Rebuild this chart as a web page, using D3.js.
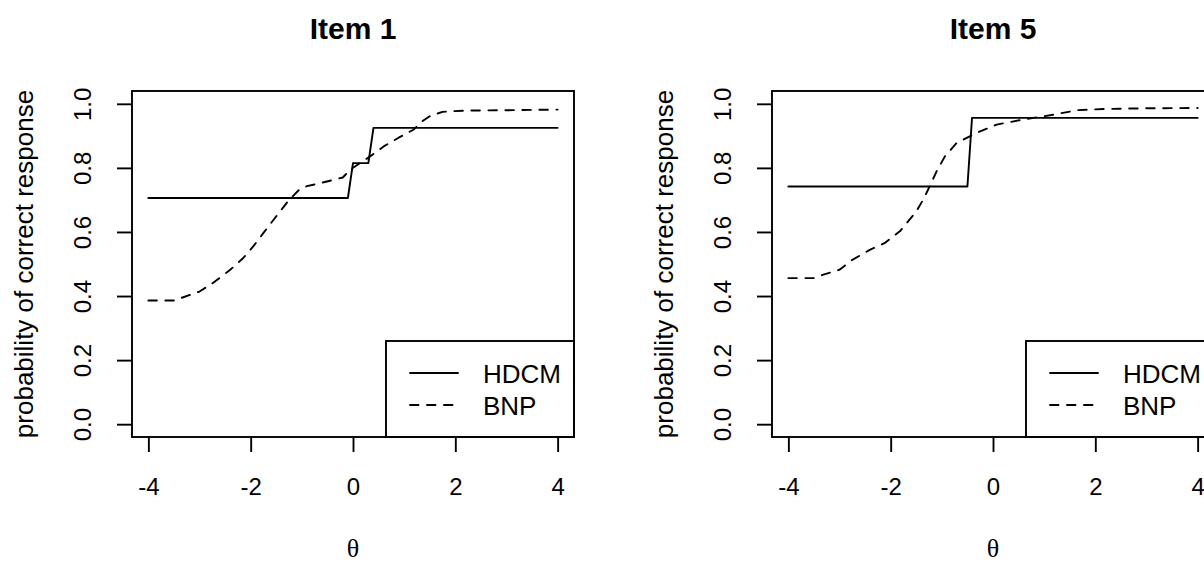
<!DOCTYPE html>
<html>
<head>
<meta charset="utf-8">
<script src="https://cdn.jsdelivr.net/npm/d3@7"></script>
<style>
  html, body { margin: 0; padding: 0; background: #fff; }
  svg { display: block; }
  text { font-family: "Liberation Sans", Arial, Helvetica, sans-serif; fill: #000; }
</style>
</head>
<body>
<svg id="chart" width="1204" height="563"></svg>
<script>
// ---------- data ----------
const xTicks = [-4, -2, 0, 2, 4];
const yTicks = [0, 0.2, 0.4, 0.6, 0.8, 1.0];
const seriesNames = ["HDCM", "BNP"];
const panelTitles = ["Item 1", "Item 5"];

// Item 1
const item1HdcmTheta = [-4, -0.10, 0.00, 0.30, 0.40, 4];
const item1HdcmProb  = [0.706, 0.706, 0.815, 0.815, 0.925, 0.925];
const item1BnpTheta = [-4, -3.5, -3.0, -2.7, -2.4, -2.15, -1.95, -1.75, -1.5, -1.25, -1.05, -0.9, -0.7, -0.45, -0.2, -0.05, 0.3, 0.6, 0.9, 1.18, 1.35, 1.5, 1.75, 2.2, 3.0, 4.0];
const item1BnpProb  = [0.386, 0.386, 0.414, 0.445, 0.482, 0.518, 0.555, 0.597, 0.649, 0.700, 0.732, 0.743, 0.750, 0.760, 0.770, 0.795, 0.832, 0.867, 0.895, 0.919, 0.945, 0.961, 0.975, 0.979, 0.980, 0.982];

// Item 5
const item5HdcmTheta = [-4, -0.50, -0.41, 4];
const item5HdcmProb  = [0.742, 0.742, 0.956, 0.956];
const item5BnpTheta = [-4, -3.5, -3.33, -3.0, -2.75, -2.41, -2.12, -1.82, -1.5, -1.35, -1.24, -1.1, -0.94, -0.71, -0.32, 0.07, 0.59, 1.18, 1.64, 2.2, 3.0, 4.0];
const item5BnpProb  = [0.456, 0.456, 0.466, 0.482, 0.513, 0.544, 0.565, 0.602, 0.664, 0.705, 0.742, 0.790, 0.836, 0.878, 0.909, 0.935, 0.951, 0.966, 0.980, 0.984, 0.986, 0.987];

const panels = [
  { title: panelTitles[0], hdcm: d3.zip(item1HdcmTheta, item1HdcmProb), bnp: d3.zip(item1BnpTheta, item1BnpProb) },
  { title: panelTitles[1], hdcm: d3.zip(item5HdcmTheta, item5HdcmProb), bnp: d3.zip(item5BnpTheta, item5BnpProb) }
];

// ---------- layout ----------
const svg = d3.select("#chart");
const panelOffset = 640;
const plotL = 132, plotR = 574, plotT = 91, plotB = 437;
const x = d3.scaleLinear().domain([-4.32, 4.32]).range([plotL, plotR]);
const y = d3.scaleLinear().domain([-0.04, 1.04]).range([plotB, plotT]);
const line = d3.line().x(d => x(d[0])).y(d => y(d[1]));
const lw = 1.9;
const dash = "8.5,8.5";

panels.forEach((p, i) => {
  const g = svg.append("g").attr("transform", `translate(${i * panelOffset},0)`);

  // title
  g.append("text").attr("x", x(0)).attr("y", 39)
    .attr("text-anchor", "middle").attr("font-weight", "bold").attr("font-size", 30)
    .text(p.title);

  // x axis
  const xa = g.append("g").attr("transform", `translate(0,${plotB})`)
    .call(d3.axisBottom(x).tickValues(xTicks).tickSize(15).tickSizeOuter(0).tickPadding(0)
      .tickFormat(d => d < 0 ? "-" + Math.abs(d) : String(d)));
  xa.select(".domain").remove();
  xa.selectAll(".tick line").attr("stroke", "#000").attr("stroke-width", lw);
  xa.selectAll(".tick text").attr("font-size", 24).attr("dy", null).attr("y", 58)
    .style("font-family", "'Liberation Sans', Arial, sans-serif");

  // y axis
  const ya = g.append("g").attr("transform", `translate(${plotL},0)`)
    .call(d3.axisLeft(y).tickValues(yTicks).tickSize(15).tickSizeOuter(0)
      .tickFormat(d3.format(".1f")));
  ya.select(".domain").remove();
  ya.selectAll(".tick line").attr("stroke", "#000").attr("stroke-width", lw);
  ya.selectAll(".tick text")
    .attr("font-size", 24).attr("x", null).attr("dy", null).attr("y", null)
    .attr("text-anchor", "middle")
    .attr("transform", "translate(-41,0) rotate(-90)")
    .style("font-family", "'Liberation Sans', Arial, sans-serif");

  // axis labels
  g.append("text").attr("transform", `translate(33,${(plotT + plotB) / 2}) rotate(-90)`)
    .attr("text-anchor", "middle").attr("font-size", 26)
    .text("probability of correct response");
  g.append("text").attr("x", x(0)).attr("y", 557)
    .attr("text-anchor", "middle").attr("font-size", 26)
    .style("font-family", "'Liberation Serif', 'DejaVu Serif', serif")
    .text("θ");

  // curves
  g.append("path").datum(p.hdcm).attr("d", line)
    .attr("fill", "none").attr("stroke", "#000").attr("stroke-width", lw)
    .attr("stroke-linejoin", "round").attr("stroke-linecap", "round");
  g.append("path").datum(p.bnp).attr("d", line)
    .attr("fill", "none").attr("stroke", "#000").attr("stroke-width", lw)
    .attr("stroke-dasharray", dash)
    .attr("stroke-linejoin", "round").attr("stroke-linecap", "round");

  // legend
  const lg = g.append("g");
  lg.append("rect").attr("x", 386).attr("y", 341).attr("width", plotR - 386).attr("height", plotB - 341)
    .attr("fill", "#fff").attr("stroke", "#000").attr("stroke-width", lw);
  const legendRows = [{ name: seriesNames[0], dash: null, yy: 373 }, { name: seriesNames[1], dash: dash, yy: 405 }];
  legendRows.forEach(r => {
    lg.append("line").attr("x1", 410).attr("x2", 458).attr("y1", r.yy).attr("y2", r.yy)
      .attr("stroke", "#000").attr("stroke-width", lw)
      .attr("stroke-dasharray", r.dash).attr("stroke-linecap", "round");
    lg.append("text").attr("x", 483).attr("y", r.yy + 9.5).attr("font-size", 26).text(r.name);
  });

  // frame
  g.append("rect").attr("x", plotL).attr("y", plotT).attr("width", plotR - plotL).attr("height", plotB - plotT)
    .attr("fill", "none").attr("stroke", "#000").attr("stroke-width", lw);
});
</script>
</body>
</html>
